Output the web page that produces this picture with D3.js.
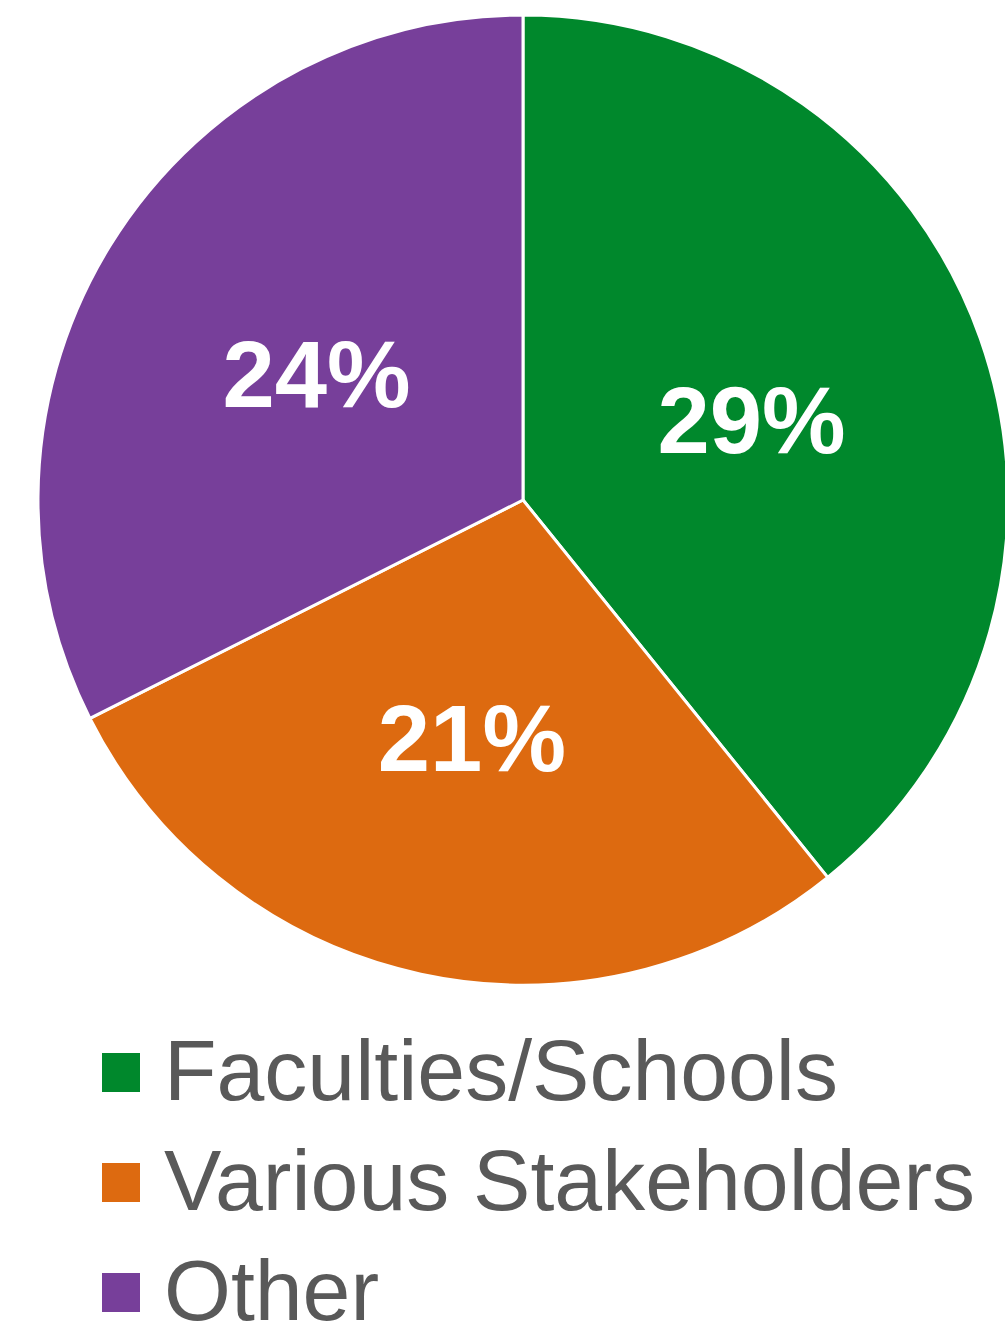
<!DOCTYPE html>
<html>
<head>
<meta charset="utf-8">
<script src="https://cdn.jsdelivr.net/npm/d3@7"></script>
<style>
  html, body { margin: 0; padding: 0; background: #ffffff; overflow: hidden; }
  svg { display: block; }
</style>
</head>
<body>
<script>
// Share of items by source
const categories = ["Faculties/Schools", "Various Stakeholders", "Other"];
const values = [29, 21, 24];
const colors = ["#00882C", "#DD6A10", "#773F9A"];

const width = 1005, height = 1322;
const cx = 523, cy = 500, radius = 485;

const svg = d3.select("body").append("svg")
  .attr("width", width)
  .attr("height", height);

const data = categories.map((c, i) => ({ category: c, value: values[i] }));

const pie = d3.pie()
  .sort(null)
  .value(d => d.value);

const arc = d3.arc()
  .innerRadius(0)
  .outerRadius(radius);

const color = d3.scaleOrdinal().domain(categories).range(colors);

const g = svg.append("g").attr("transform", `translate(${cx},${cy})`);
const arcs = pie(data);

g.selectAll("path.slice")
  .data(arcs)
  .join("path")
  .attr("class", "slice")
  .attr("d", arc)
  .attr("fill", d => color(d.data.category))
  .attr("stroke", "#ffffff")
  .attr("stroke-width", 3)
  .attr("stroke-linejoin", "round");

// Percentage labels at the slice centroids
g.selectAll("text.value")
  .data(arcs)
  .join("text")
  .attr("class", "value")
  .attr("x", d => arc.centroid(d)[0])
  .attr("y", d => arc.centroid(d)[1])
  .attr("text-anchor", "middle")
  .attr("dy", "0.36em")
  .attr("font-family", "'Liberation Sans', Arial, sans-serif")
  .attr("font-weight", "bold")
  .attr("font-size", 94)
  .attr("fill", "#ffffff")
  .text(d => d.data.value + "%");

// Legend
const legendY = d3.scalePoint()
  .domain(categories)
  .range([1100, 1320]);

const legend = svg.append("g").selectAll("g")
  .data(categories)
  .join("g")
  .attr("transform", d => `translate(0,${legendY(d)})`);

legend.append("rect")
  .attr("x", 102)
  .attr("y", -47)
  .attr("width", 38)
  .attr("height", 39)
  .attr("fill", d => color(d));

legend.append("text")
  .attr("x", 164)
  .attr("y", 0)
  .attr("font-family", "'Liberation Sans', Arial, sans-serif")
  .attr("font-size", 86)
  .attr("fill", "#595959")
  .text(d => d);
</script>
</body>
</html>
